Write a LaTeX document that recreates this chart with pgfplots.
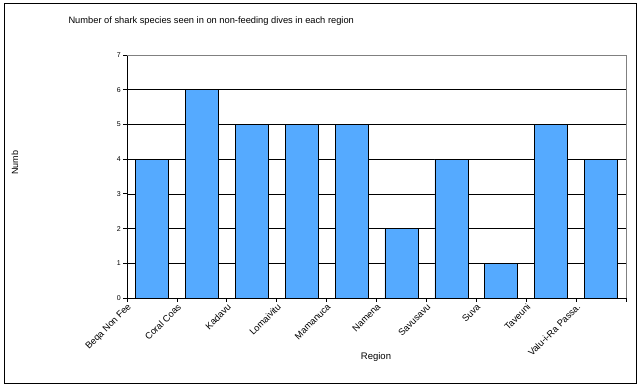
\documentclass[border=0pt]{standalone}
\usepackage{pgfplots}
\pgfplotsset{compat=1.18}
\usepackage{fontspec}
\setmainfont{Liberation Sans}
\definecolor{barblue}{RGB}{85,170,255}
\begin{document}
\begin{tikzpicture}[x=1pt,y=1pt]
\path[use as bounding box] (0,0) rectangle (642,390);
\draw[black, line width=1pt] (4,6) rectangle (636,386);
\node[anchor=base west, font=\fontsize{9.3}{10}\selectfont] at (65,366) {Number of shark species seen in on non-feeding dives in each region};
\node[rotate=90, font=\fontsize{9}{10}\selectfont] at (15,227) {Numb};
\node[font=\fontsize{9.5}{10}\selectfont] at (376,33) {Region};
\begin{axis}[at={(127pt,92pt)}, anchor=south west, scale only axis,
  width=499pt, height=243pt,
  xmin=0.5, xmax=10.5, ymin=0, ymax=7,
  axis lines*=left,
  axis line style={black, line width=0.8pt},
  xtick={0.5,1.5,2.5,3.5,4.5,5.5,6.5,7.5,8.5,9.5,10.5},
  xticklabels={Beqa Non Fee, Coral Coas, Kadavu, Lomaivitu, Mamanuca, Namena, Savusavu, Suva, Taveuni, Valu-i-Ra Passa., {}},
  ytick={0,1,2,3,4,5,6,7},
  ymajorgrids, grid style={black, line width=0.6pt},
  tick align=outside, major tick length=4pt,
  tick style={black, line width=0.8pt},
  xticklabel style={rotate=45, anchor=north east, inner sep=0.5pt, font=\fontsize{9.3}{10}\selectfont},
  yticklabel style={font=\fontsize{7}{8}\selectfont, inner sep=2pt},
  /pgf/number format/assume math mode=true,
  ybar, bar width=33pt,
  clip=false,
]
\addplot[fill=barblue, draw=black, line width=0.6pt] coordinates {
(1,4) (2,6) (3,5) (4,5) (5,5) (6,2) (7,4) (8,1) (9,5) (10,4)};
\draw[gray, line width=0.8pt] (axis cs:0.5,7) -- (axis cs:10.5,7) -- (axis cs:10.5,0);
\end{axis}
\end{tikzpicture}
\end{document}
